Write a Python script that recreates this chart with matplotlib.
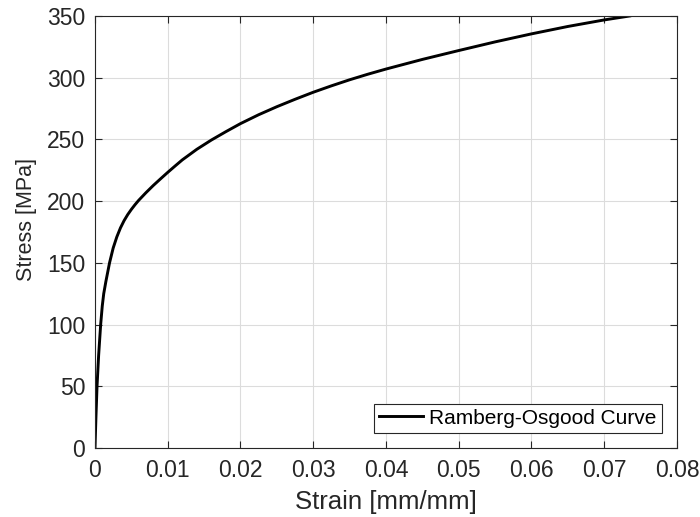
import matplotlib.pyplot as plt
import numpy as np

plt.rcParams['font.family'] = ['Liberation Sans', 'DejaVu Sans']

# values
strain = [0.0, 0.00013, 0.00028, 0.0005, 0.00078, 0.001, 0.0012, 0.0015,
          0.0020, 0.0025, 0.0030, 0.0035, 0.0040, 0.0045, 0.0050, 0.0055,
          0.0060, 0.0070, 0.0080, 0.0090, 0.0100, 0.0110, 0.0120, 0.0140,
          0.0160, 0.0180, 0.0200, 0.0225, 0.0250, 0.0275, 0.0300, 0.0325,
          0.0350, 0.0375, 0.0400, 0.0450, 0.0500, 0.0550, 0.0600, 0.0650,
          0.0700, 0.0735]
stress = [0, 25, 50, 75, 100, 115, 125, 135,
          150, 162, 171, 178.3, 184.2, 189.1, 193.3, 197.1,
          200.6, 206.8, 212.6, 218, 223.3, 228.4, 233.4, 242,
          249.5, 256.3, 262.8, 270, 276.5, 282.5, 288.2, 293.4,
          298.3, 302.8, 307, 314.8, 322, 329, 335.5, 341.5,
          346.8, 350]

fig = plt.figure(figsize=(7, 5.17), dpi=100)
ax = fig.add_axes([0.1357, 0.1335, 0.8314, 0.8356])

ax.plot(strain, stress, color='black', linewidth=2.1, label='Ramberg-Osgood Curve')

ax.set_xlim(0, 0.08)
ax.set_ylim(0, 350)
ax.set_xticks(np.arange(0, 0.081, 0.01))
ax.set_xticklabels(['0', '0.01', '0.02', '0.03', '0.04', '0.05', '0.06', '0.07', '0.08'])
ax.set_yticks(np.arange(0, 351, 50))

ax.grid(True, color='#dcdcdc', linewidth=0.8)
ax.set_axisbelow(True)
ax.tick_params(direction='in', top=True, right=True, length=5, width=0.8,
               labelsize=16.5, colors='#262626')
ax.tick_params(axis='x', pad=8)
ax.tick_params(axis='y', pad=7)
for s in ax.spines.values():
    s.set_color('#262626')
    s.set_linewidth(0.8)

ax.set_xlabel('Strain [mm/mm]', fontsize=18.5, color='#262626')
ax.set_ylabel('Stress [MPa]', fontsize=15.5, color='#262626')
ax.xaxis.set_label_coords(0.5, -0.097)
ax.yaxis.set_label_coords(-0.1, 0.528)

leg = ax.legend(loc='lower right', fontsize=15, fancybox=False, edgecolor='#262626',
                framealpha=1, borderpad=0.25, handlelength=2.1, handletextpad=0.3,
                borderaxespad=0.72)
leg.get_frame().set_linewidth(0.8)

plt.savefig('out.png', dpi=100)
